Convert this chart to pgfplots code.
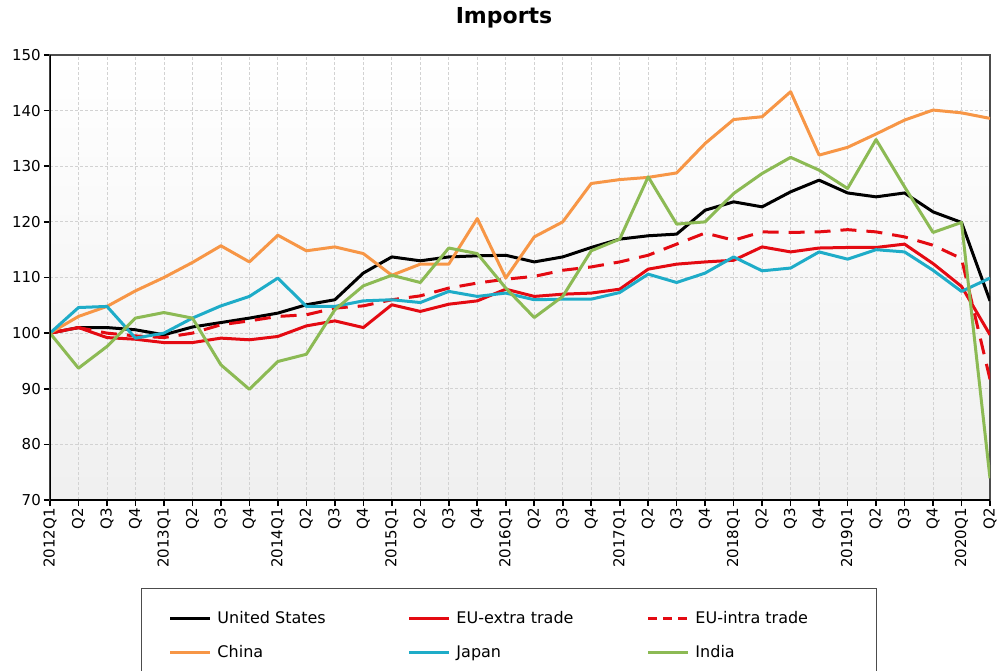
\documentclass[border=0pt]{standalone}
\usepackage{pgfplots}
\pgfplotsset{compat=1.18}
\usepackage{pgfplotstable}
\usepackage{fontspec}
\setmainfont{DejaVu Sans}

\definecolor{usblack}{RGB}{0,0,0}
\definecolor{euxred}{RGB}{228,10,18}
\definecolor{cnorange}{RGB}{247,150,70}
\definecolor{jpcyan}{RGB}{30,172,200}
\definecolor{ingreen}{RGB}{140,186,84}

% quarterly import indices, 2012Q1 = 100
\pgfplotstableread{
i   us     eux    eui    cn     jp     in
0   100.0  100.0  100.0  100.0  100.0  100.0
1   101.0  101.0  101.0  103.0  104.6  93.7
2   101.0  99.2   100.0  104.8  104.8  97.6
3   100.6  98.9   99.5   107.6  99.1   102.7
4   99.7   98.3   99.2   110.0  100.0  103.7
5   101.1  98.3   100.0  112.7  102.7  102.7
6   101.9  99.1   101.5  115.7  104.9  94.3
7   102.7  98.8   102.2  112.8  106.6  89.9
8   103.6  99.4   103.0  117.6  109.9  94.9
9   105.1  101.3  103.3  114.8  104.8  96.2
10  106.0  102.2  104.5  115.5  104.8  104.2
11  110.8  101.0  104.9  114.3  105.8  108.5
12  113.7  105.1  106.0  110.4  106.0  110.4
13  113.0  103.9  106.7  112.4  105.5  109.1
14  113.7  105.2  108.1  112.4  107.5  115.3
15  113.9  105.8  109.0  120.6  106.6  114.3
16  114.0  107.9  109.7  109.9  107.2  108.1
17  112.8  106.6  110.2  117.3  106.0  102.8
18  113.7  107.0  111.3  120.0  106.1  106.6
19  115.4  107.2  111.9  126.9  106.1  114.8
20  116.9  107.9  112.8  127.6  107.3  116.9
21  117.5  111.5  114.0  128.0  110.6  128.1
22  117.8  112.4  116.0  128.8  109.1  119.6
23  122.1  112.8  118.0  134.1  110.8  120.0
24  123.6  113.1  116.7  138.4  113.7  125.1
25  122.7  115.5  118.2  138.9  111.2  128.7
26  125.4  114.6  118.1  143.4  111.7  131.6
27  127.5  115.3  118.2  132.0  114.6  129.3
28  125.2  115.4  118.6  133.4  113.3  126.0
29  124.5  115.4  118.2  135.8  115.0  134.8
30  125.2  116.0  117.3  138.3  114.6  126.3
31  121.8  112.5  115.8  140.1  111.3  118.1
32  119.9  108.4  113.4  139.6  107.5  119.9
33  105.8  99.7   91.7   138.6  109.9  73.9
}\imports

\begin{document}
\begin{tikzpicture}
\path[use as bounding box] (-50pt,-171pt) rectangle (951pt,500pt);
\begin{axis}[
    scale only axis,
    width=940pt, height=445pt,
    xmin=0, xmax=33, ymin=70, ymax=150,
    ytick={70,80,...,150},
    xtick={0,...,33},
    xticklabels={2012Q1,Q2,Q3,Q4,2013Q1,Q2,Q3,Q4,2014Q1,Q2,Q3,Q4,2015Q1,Q2,Q3,Q4,
        2016Q1,Q2,Q3,Q4,2017Q1,Q2,Q3,Q4,2018Q1,Q2,Q3,Q4,2019Q1,Q2,Q3,Q4,2020Q1,Q2},
    xticklabel style={rotate=90, anchor=east, font=\fontsize{15}{15}\selectfont, inner sep=2pt},
    yticklabel style={font=\fontsize{15}{15}\selectfont, inner sep=3pt},
    /pgf/number format/assume math mode=true,
    tick pos=left,
    tick align=outside,
    major tick length=6pt,
    tick style={black, line width=1.6pt},
    grid=major,
    grid style={densely dashed, gray!35, line width=0.8pt},
    axis line style={gray!60!black, line width=1.4pt},
    axis background/.style={top color=white, bottom color=gray!12},
    title={\textbf{Imports}},
    title style={at={(0.483,1)}, anchor=base, yshift=25pt, font=\fontsize{22}{22}\selectfont},
    legend columns=3,
    legend style={at={(0.4883,0)}, anchor=north, yshift=-88pt,
        draw=gray!60!black, line width=1.2pt, inner xsep=27pt, inner ysep=21pt,
        font=\fontsize{16}{18}\selectfont, row sep=16pt},
    legend image code/.code={\draw[#1, line width=3pt] (0pt,0pt) -- (40pt,0pt);},
    every axis plot/.append style={line width=3pt, line join=round},
]
\addplot[usblack] table[x=i, y=us] {\imports};
\addlegendentry{\makebox[192pt][l]{\hspace{4pt}United States}}
\addplot[euxred] table[x=i, y=eux] {\imports};
\addlegendentry{\makebox[192pt][l]{\hspace{4pt}EU-extra trade}}
\addplot[euxred, dash pattern=on 16pt off 10pt,
    legend image post style={dash pattern=on 9pt off 6pt}] table[x=i, y=eui] {\imports};
\addlegendentry{\makebox[156pt][l]{\hspace{4pt}EU-intra trade}}
\addplot[cnorange] table[x=i, y=cn] {\imports};
\addlegendentry{\makebox[192pt][l]{\hspace{4pt}China}}
\addplot[jpcyan] table[x=i, y=jp] {\imports};
\addlegendentry{\makebox[192pt][l]{\hspace{4pt}Japan}}
\addplot[ingreen] table[x=i, y=in] {\imports};
\addlegendentry{\makebox[156pt][l]{\hspace{4pt}India}}
\draw[black, line width=2.6pt] (rel axis cs:0,1) -- (rel axis cs:0,0) -- (rel axis cs:1,0);
\end{axis}
\end{tikzpicture}
\end{document}
